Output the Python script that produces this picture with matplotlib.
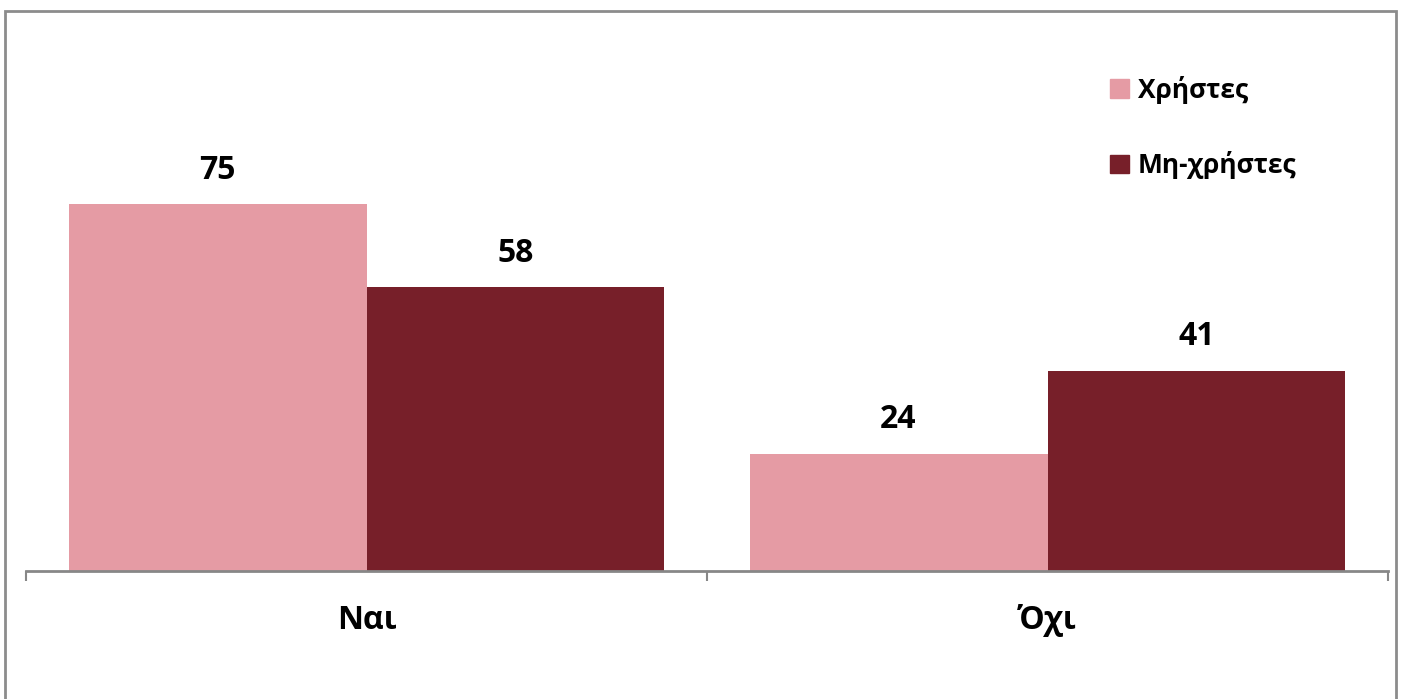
import matplotlib.pyplot as plt
import numpy as np
from matplotlib.patches import Rectangle, Patch

# δεδομένα
categories = ["Ναι", "Όχι"]
series_names = ["Χρήστες", "Μη-χρήστες"]
users = [75, 24]
non_users = [58, 41]

colors = ["#E59BA4", "#771F29"]

plt.rcParams['font.family'] = ['Open Sans', 'DejaVu Sans']
plt.rcParams['font.weight'] = 'bold'

fig = plt.figure(figsize=(14.02, 6.99), dpi=100)

# outer border of chart area
fig.patches.append(Rectangle((5 / 1402, -0.05), (1396 - 5) / 1402, (699 - 11) / 699 + 0.05,
                             transform=fig.transFigure, fill=False,
                             edgecolor="#8c8c8c", linewidth=2))

ax = fig.add_axes([26 / 1402, 128 / 699, (1388 - 26) / 1402, (571 - 20) / 699])

x = np.arange(len(categories))
w = 0.4375
b1 = ax.bar(x - w / 2, users, w, color=colors[0], label=series_names[0])
b2 = ax.bar(x + w / 2, non_users, w, color=colors[1], label=series_names[1])

for bars in (b1, b2):
    for r in bars:
        ax.text(r.get_x() + r.get_width() / 2, r.get_height() + 3.6, f"{r.get_height():.0f}",
                ha="center", va="bottom", fontsize=23, fontweight="bold")

ax.set_xlim(-0.5, 1.5)
ax.set_ylim(0, 551 / 4.89)

for s in ["top", "right", "left"]:
    ax.spines[s].set_visible(False)
ax.spines["bottom"].set_color("#878787")
ax.spines["bottom"].set_linewidth(2)
ax.set_yticks([])
ax.set_xticks([-0.5, 0.5, 1.5])
ax.set_xticklabels([])
ax.tick_params(axis="x", which="major", length=7, width=1.5, color="#878787", direction="out")
ax.set_xticks(x, minor=True)
ax.set_xticklabels(categories, minor=True, fontsize=23, fontweight="bold")
ax.tick_params(axis="x", which="minor", length=0, pad=24)

handles = [Patch(color=c) for c in colors]
ax.legend(handles, series_names, loc="upper left", bbox_to_anchor=(1086 / 1402, 1 - 52 / 699),
          bbox_transform=fig.transFigure, frameon=False,
          prop={'weight': 'bold', 'size': 19}, handlelength=0.72, handleheight=0.72,
          handletextpad=0.35, labelspacing=1.8)

plt.savefig("out.png", dpi=100)
